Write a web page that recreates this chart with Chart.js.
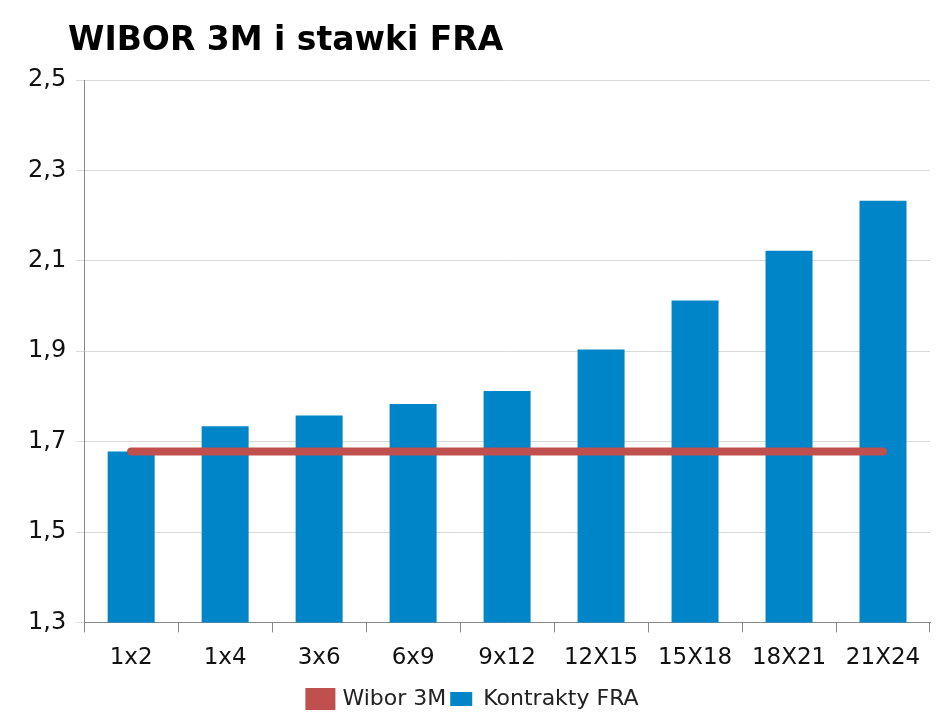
<!DOCTYPE html>
<html><head><meta charset="utf-8">
<script src="https://cdn.jsdelivr.net/npm/chart.js@4"></script>
<style>html,body{margin:0;padding:0;background:#fff}#w{width:947px;height:728px}</style>
</head><body><div id="w"><canvas id="c"></canvas></div>
<script>
const categories=["1x2","1x4","3x6","6x9","9x12","12X15","15X18","18X21","21X24"];
const fraValues=[1.678,1.734,1.758,1.783,1.812,1.904,2.012,2.122,2.233];
const wiborValues=[1.678,1.678,1.678,1.678,1.678,1.678,1.678,1.678,1.678];
const yTicks=[1.3,1.5,1.7,1.9,2.1,2.3,2.5];
const titlePlugin={id:'ttl',afterDraw(ch){const c=ch.ctx;c.save();c.fillStyle='#000';c.font='bold 33px "DejaVu Sans"';c.textBaseline='alphabetic';c.fillText('WIBOR 3M i stawki FRA',68,50);c.restore();}};
new Chart(document.getElementById('c'),{
data:{labels:categories,datasets:[
{type:'bar',label:'Kontrakty FRA',data:fraValues,backgroundColor:'#0085C8',barPercentage:0.5,categoryPercentage:1,order:1},
{type:'line',label:'Wibor 3M',data:wiborValues,borderColor:'#C0504D',backgroundColor:'#C0504D',borderWidth:8,borderCapStyle:'round',pointRadius:0,order:0}
]},
plugins:[titlePlugin],
options:{responsive:true,maintainAspectRatio:false,animation:false,
layout:{padding:{left:18,right:17,top:80,bottom:8}},
plugins:{title:{display:false},
legend:{position:'bottom',labels:{color:'#222',font:{family:'DejaVu Sans',size:22},boxWidth:22,boxHeight:14,padding:4}},
tooltip:{enabled:false}},
scales:{
x:{grid:{display:true,drawOnChartArea:false,tickLength:10,color:'#888',offset:true},border:{color:'#888'},ticks:{color:'#111',font:{family:'DejaVu Sans',size:23},padding:12,maxRotation:0}},
y:{min:1.3,max:2.5,afterBuildTicks:(a)=>{a.ticks=yTicks.map(v=>({value:v}));},
grid:{color:'#d9d9d9',tickLength:8},border:{color:'#888'},
ticks:{color:'#111',font:{family:'DejaVu Sans',size:24},padding:10,callback:v=>v.toFixed(1).replace('.',',')}}
}}});
</script></body></html>
